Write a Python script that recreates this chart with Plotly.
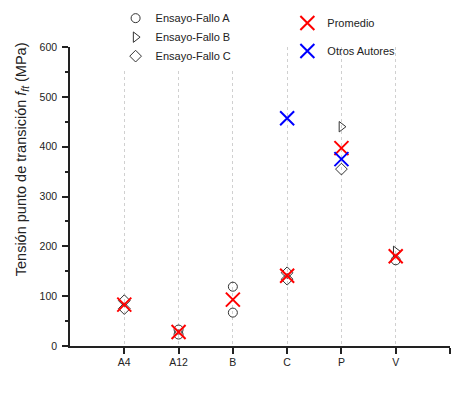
import plotly.graph_objects as go

categories = ["A4", "A12", "B", "C", "P", "V"]

fallo_a_cat = ["A12", "A12", "B", "B", "V"]
fallo_a_val = [33, 23, 119, 67, 172]

fallo_b_cat = ["P", "V"]
fallo_b_val = [440, 190]

fallo_c_cat = ["A4", "A4", "C", "C", "P"]
fallo_c_val = [91, 75, 147, 134, 355]

promedio_cat = ["A4", "A12", "B", "C", "P", "V"]
promedio_val = [83, 28, 93, 141, 397, 180]

otros_cat = ["C", "P"]
otros_val = [457, 375]

pos = {c: i for i, c in enumerate(categories)}
def xs(cats):
    return [pos[c] for c in cats]

fig = go.Figure()
open_style = dict(color="#333333", size=9, line=dict(color="#333333", width=1))

fig.add_trace(go.Scatter(x=xs(fallo_a_cat), y=fallo_a_val, mode="markers", name="Ensayo-Fallo A",
                         marker=dict(symbol="circle-open", **open_style), cliponaxis=False, legend="legend"))
fig.add_trace(go.Scatter(x=xs(fallo_b_cat), y=fallo_b_val, mode="markers", name="Ensayo-Fallo B",
                         marker=dict(symbol="triangle-right-open", **open_style), cliponaxis=False, legend="legend"))
fig.add_trace(go.Scatter(x=xs(fallo_c_cat), y=fallo_c_val, mode="markers", name="Ensayo-Fallo C",
                         marker=dict(symbol="diamond-open", **open_style), cliponaxis=False, legend="legend"))
fig.add_trace(go.Scatter(x=xs(promedio_cat), y=promedio_val, mode="markers", name="Promedio",
                         marker=dict(symbol="x-thin-open", size=14, color="#ff0000",
                                     line=dict(color="#ff0000", width=2)),
                         cliponaxis=False, legend="legend2", legendgroup="g1"))
fig.add_trace(go.Scatter(x=xs(otros_cat), y=otros_val, mode="markers", name="Otros Autores",
                         marker=dict(symbol="x-thin-open", size=14, color="#0000ff",
                                     line=dict(color="#0000ff", width=2)),
                         cliponaxis=False, legend="legend2", legendgroup="g2"))

# invisible trace on xaxis2 to carry the grid
fig.add_trace(go.Scatter(x=[0, 5], y=[0, 0], mode="markers", marker=dict(opacity=0),
                         xaxis="x2", showlegend=False, hoverinfo="skip"))

tickvals = list(range(len(categories))) + [len(categories)]
ticktext = categories + [""]

fig.update_layout(
    width=474, height=395,
    margin=dict(l=70, r=24, t=47, b=49, autoexpand=False),
    paper_bgcolor="white", plot_bgcolor="white",
    font=dict(family="Liberation Sans, Arial, sans-serif", size=10.5, color="#222222"),
    xaxis=dict(range=[-1, len(categories)], tickmode="array", tickvals=tickvals, ticktext=ticktext,
               showgrid=False, zeroline=False, showline=True, linecolor="#222222", linewidth=1.5,
               ticks="outside", ticklen=6, tickwidth=1.5, tickcolor="#222222",
               tickfont=dict(size=10.5)),
    xaxis2=dict(range=[-1, len(categories)], overlaying="x", tickmode="array",
                tickvals=list(range(len(categories))), showticklabels=False,
                showgrid=True, gridcolor="#d0d0d0", gridwidth=1, griddash="dot",
                showline=False, zeroline=False, ticks=""),
    yaxis=dict(range=[0, 600], tickmode="array", tickvals=[0, 100, 200, 300, 400, 500, 600],
               showgrid=False, zeroline=False, showline=True, linecolor="#222222", linewidth=1.5,
               ticks="outside", ticklen=6, tickwidth=1.5, tickcolor="#222222",
               minor=dict(tickvals=[50, 150, 250, 350, 450, 550], ticks="outside", ticklen=3,
                          tickwidth=1.5, tickcolor="#222222", showgrid=False),
               tickfont=dict(size=10.5), ticklabelstandoff=3),
    legend=dict(x=0.12, y=1.145, xanchor="left", yanchor="top", bgcolor="white",
                font=dict(size=11, color="#222222"), tracegroupgap=0, itemwidth=30),
    legend2=dict(x=0.572, y=1.129, xanchor="left", yanchor="top",
                 bgcolor="rgba(255,255,255,0)",
                 font=dict(size=11, color="#222222"), tracegroupgap=9, itemwidth=30),
    annotations=[dict(text="Tensión punto de transición <i>f<sub>ft</sub></i> (MPa)",
                      xref="paper", yref="paper", x=-0.126, y=0.625, textangle=-90,
                      showarrow=False, font=dict(size=14.5, color="#222222"),
                      xanchor="center", yanchor="middle")],
)

fig.write_html("out.html", config={"displayModeBar": False},
               post_script="document.body.style.margin='0';")
